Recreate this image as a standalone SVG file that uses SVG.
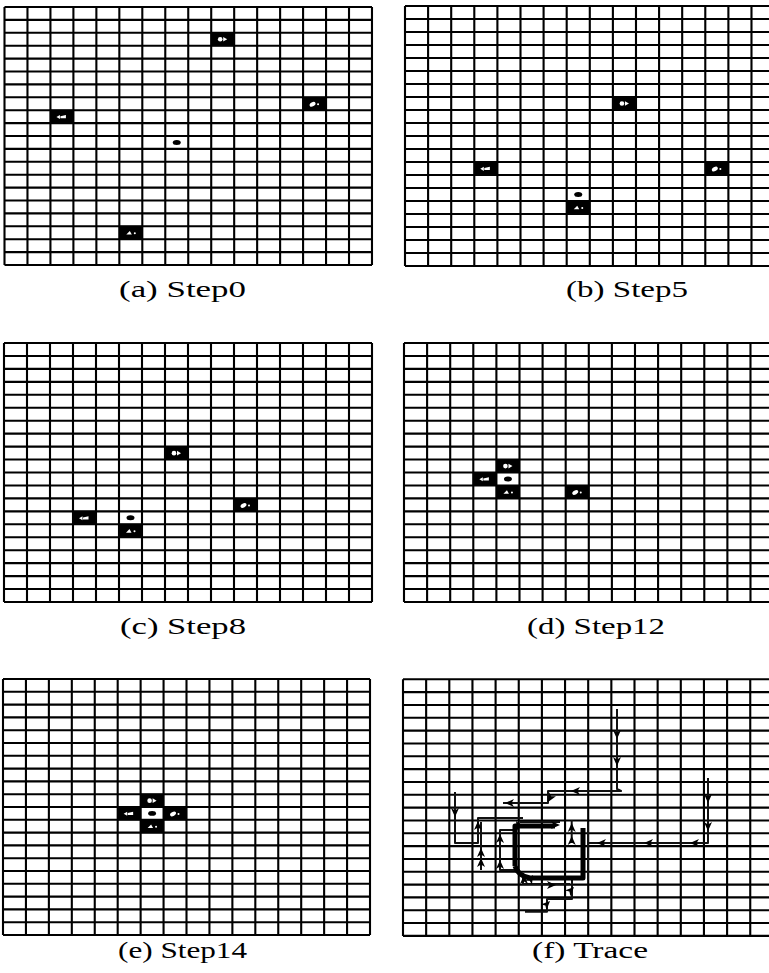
<svg xmlns="http://www.w3.org/2000/svg" xmlns:xlink="http://www.w3.org/1999/xlink" width="769" height="973" viewBox="0 0 769 973">
<style>
.grid{fill:none;stroke:#000;stroke-width:2.1}
.cap{font-family:"Liberation Serif","DejaVu Serif",serif;font-size:24px;fill:#000}
.tr{fill:none;stroke:#111;stroke-width:2;stroke-linejoin:round}
.thick{fill:none;stroke:#000;stroke-width:5;stroke-linejoin:round}
.dot{fill:#000}
</style>
<defs>
<path id="grid" class="grid" d="M0,0V258M23,0V258M46,0V258M69,0V258M92,0V258M115,0V258M138,0V258M161,0V258M184,0V258M207,0V258M230,0V258M253,0V258M276,0V258M299,0V258M322,0V258M345,0V258M368,0V258M0,0H368M0,12.9H368M0,25.8H368M0,38.7H368M0,51.6H368M0,64.5H368M0,77.4H368M0,90.3H368M0,103.2H368M0,116.1H368M0,129H368M0,141.9H368M0,154.8H368M0,167.7H368M0,180.6H368M0,193.5H368M0,206.4H368M0,219.3H368M0,232.2H368M0,245.1H368M0,258H368"/>
<g id="ag1"><rect x="-0.5" y="-0.5" width="24" height="13.9" fill="#000"/><ellipse cx="9" cy="6.5" rx="2.3" ry="2.3" fill="#fff"/><polygon points="12,4.2 16,6.5 12,8.8" fill="#fff"/></g>
<g id="ag2"><rect x="-0.5" y="-0.5" width="24" height="13.9" fill="#000"/><polygon points="6,6.8 9.5,4.8 9.5,8.8" fill="#fff"/><polygon points="10,6 15.5,4.8 15.5,8 10,8" fill="#fff"/></g>
<g id="ag3"><rect x="-0.5" y="-0.5" width="24" height="13.9" fill="#000"/><ellipse cx="9.5" cy="7" rx="3.2" ry="2" transform="rotate(-30 9.5 7)" fill="#fff"/><circle cx="15" cy="7" r="1" fill="#fff"/></g>
<g id="ag4"><rect x="-0.5" y="-0.5" width="24" height="13.9" fill="#000"/><polygon points="7,8.3 10.5,4.8 12.5,8.3" fill="#fff"/><circle cx="15.5" cy="7" r="1" fill="#fff"/></g>
<ellipse id="tgt" cx="11.5" cy="6.45" rx="4" ry="2.5" class="dot"/>
<path id="ah" d="M0,0 L-9,-4 L-6.5,0 L-9,4 Z" fill="#000"/>
</defs>

<g id="panel-a" transform="translate(4.5,7) scale(0.9986,1)">
<use xlink:href="#grid"/>
<use xlink:href="#ag1" x="207" y="25.8"/>
<use xlink:href="#ag2" x="46" y="103.2"/>
<use xlink:href="#ag3" x="299" y="90.3"/>
<use xlink:href="#ag4" x="115" y="219.3"/>
<use xlink:href="#tgt" x="161" y="129"/>
</g>
<text id="cap-a" class="cap" x="119" y="297" textLength="127" lengthAdjust="spacingAndGlyphs">(a) Step0</text>

<g id="panel-b" transform="translate(405,6) scale(1.0043,1.0078)">
<use xlink:href="#grid"/>
<use xlink:href="#ag1" x="207" y="90.3"/>
<use xlink:href="#ag2" x="69" y="154.8"/>
<use xlink:href="#ag3" x="299" y="154.8"/>
<use xlink:href="#ag4" x="161" y="193.5"/>
<use xlink:href="#tgt" x="161" y="180.6"/>
</g>
<text id="cap-b" class="cap" x="566" y="297" textLength="122" lengthAdjust="spacingAndGlyphs">(b) Step5</text>

<g id="panel-c" transform="translate(4,343) scale(1,1.0039)">
<use xlink:href="#grid"/>
<use xlink:href="#ag1" x="161" y="103.2"/>
<use xlink:href="#ag3" x="230" y="154.8"/>
<use xlink:href="#ag2" x="69" y="167.7"/>
<use xlink:href="#ag4" x="115" y="180.6"/>
<use xlink:href="#tgt" x="115" y="167.7"/>
</g>
<text id="cap-c" class="cap" x="120" y="634" textLength="126" lengthAdjust="spacingAndGlyphs">(c) Step8</text>

<g id="panel-d" transform="translate(404,343) scale(1.0043,1.0039)">
<use xlink:href="#grid"/>
<use xlink:href="#ag1" x="92" y="116.1"/>
<use xlink:href="#ag2" x="69" y="129"/>
<use xlink:href="#ag4" x="92" y="141.9"/>
<use xlink:href="#ag3" x="161" y="141.9"/>
<use xlink:href="#tgt" x="92" y="129"/>
</g>
<text id="cap-d" class="cap" x="527" y="634" textLength="138" lengthAdjust="spacingAndGlyphs">(d) Step12</text>

<g id="panel-e" transform="translate(3,679) scale(0.9973,0.9922)">
<use xlink:href="#grid"/>
<use xlink:href="#ag1" x="138" y="116.1"/>
<use xlink:href="#ag2" x="115" y="129"/>
<use xlink:href="#ag3" x="161" y="129"/>
<use xlink:href="#ag4" x="138" y="141.9"/>
<use xlink:href="#tgt" x="138" y="129"/>
</g>
<text id="cap-e" class="cap" x="118" y="958" textLength="129" lengthAdjust="spacingAndGlyphs">(e) Step14</text>

<g id="panel-f" transform="translate(403,679.3) scale(1.0065,0.9946)">
<use xlink:href="#grid"/>
</g>
<g id="connectors">
<path class="tr" d="M617,709 L617,789 L621,791 L548,791 L548,803 L503,803"/>
<path class="tr" d="M455,792 L455,843 L478,843 L478,818 L523,818"/>
<path class="tr" d="M481,822 L481,870"/>
<path class="tr" d="M513,830 L500,830 L500,870 L520,870"/>
<path class="tr" d="M708,778 L708,843 L587,843"/>
<path class="tr" d="M571.7,820 L571.7,843"/>
<path class="tr" d="M520,822 L560,822 M588,822 L588,880"/>
<path class="tr" d="M525,911.7 L547,911.7 L547,899 L572,899 L572,886 L572,878"/>
<path class="tr" d="M523,873 L523,884 L570,884"/>
<path class="thick" d="M515,866 L515,826 L555,826 M583,828 L583,878 L530,878 Q518,876 515,866"/>
<use xlink:href="#ah" transform="translate(617,739) rotate(90)"/>
<use xlink:href="#ah" transform="translate(617,766) rotate(90)"/>
<use xlink:href="#ah" transform="translate(571,791) rotate(180)"/>
<use xlink:href="#ah" transform="translate(548,802) rotate(120)"/>
<use xlink:href="#ah" transform="translate(505,803) rotate(180)"/>
<use xlink:href="#ah" transform="translate(455,817) rotate(90)"/>
<use xlink:href="#ah" transform="translate(478,821) rotate(-90)"/>
<use xlink:href="#ah" transform="translate(481,848) rotate(-90)"/>
<use xlink:href="#ah" transform="translate(481,858) rotate(-90)"/>
<use xlink:href="#ah" transform="translate(500,834) rotate(-90)"/>
<use xlink:href="#ah" transform="translate(500,860) rotate(-90)"/>
<use xlink:href="#ah" transform="translate(708,803) rotate(90)"/>
<use xlink:href="#ah" transform="translate(708,831) rotate(90)"/>
<use xlink:href="#ah" transform="translate(690,843) rotate(180)"/>
<use xlink:href="#ah" transform="translate(644,843) rotate(180)"/>
<use xlink:href="#ah" transform="translate(597,843) rotate(180)"/>
<use xlink:href="#ah" transform="translate(571.7,823) rotate(-90)"/>
<use xlink:href="#ah" transform="translate(571.7,836) rotate(-90)"/>
<use xlink:href="#ah" transform="translate(560,825) rotate(0)"/>
<use xlink:href="#ah" transform="translate(516,821) rotate(-120)"/>
<use xlink:href="#ah" transform="translate(533,875) rotate(-60)"/>
<use xlink:href="#ah" transform="translate(556,885) rotate(0)"/>
<use xlink:href="#ah" transform="translate(550,901) rotate(-45)"/>
<use xlink:href="#ah" transform="translate(574,887) rotate(-45)"/>
<use xlink:href="#ah" transform="translate(524,875) rotate(-90)"/>
</g>
<text id="cap-f" class="cap" x="532" y="958" textLength="116" lengthAdjust="spacingAndGlyphs">(f) Trace</text>
</svg>
